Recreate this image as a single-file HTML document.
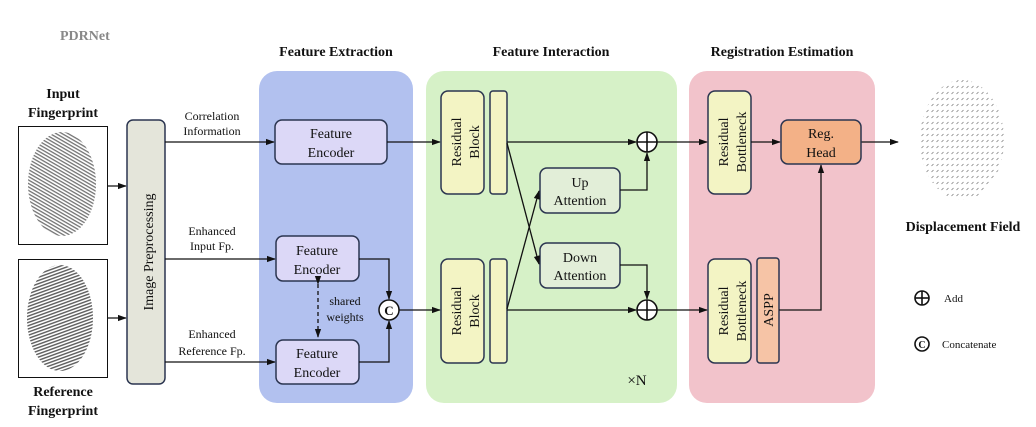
<!DOCTYPE html>
<html><head><meta charset="utf-8"><style>
html,body{margin:0;padding:0;background:#fff}
svg{display:block}
text{font-family:"Liberation Serif",serif;fill:#111}
</style></head><body>
<svg width="1036" height="427" viewBox="0 0 1036 427" xmlns="http://www.w3.org/2000/svg">
<defs>
<marker id="a" viewBox="0 0 10 10" refX="9" refY="5" markerWidth="7" markerHeight="7" orient="auto"><path d="M0,1.5 L10,5 L0,8.5z" fill="#111"/></marker>
<pattern id="fp" width="3" height="3" patternUnits="userSpaceOnUse" patternTransform="rotate(30)"><rect width="3" height="3" fill="#fff"/><rect width="3" height="1.3" fill="#444"/></pattern>
<pattern id="fp2" width="3" height="3" patternUnits="userSpaceOnUse" patternTransform="rotate(-20)"><rect width="3" height="3" fill="#fff"/><rect width="3" height="1.4" fill="#333"/></pattern>
<pattern id="df" width="5" height="6" patternUnits="userSpaceOnUse"><line x1="1.5" y1="4" x2="3.5" y2="2" stroke="#777" stroke-width="0.7"/></pattern>
</defs>
<text x="60" y="40" font-size="14" font-weight="bold" style="fill:#888">PDRNet</text>
<rect x="259" y="71" width="154" height="332" rx="18" fill="#b2c1ef"/>
<rect x="426" y="71" width="251" height="332" rx="18" fill="#d6f1c7"/>
<rect x="689" y="71" width="186" height="332" rx="18" fill="#f2c3cb"/>
<text x="336" y="56" font-size="14" font-weight="bold" text-anchor="middle">Feature Extraction</text>
<text x="551" y="56" font-size="14" font-weight="bold" text-anchor="middle">Feature Interaction</text>
<text x="782" y="56" font-size="14" font-weight="bold" text-anchor="middle">Registration Estimation</text>
<text x="63" y="98" font-size="14" font-weight="bold" text-anchor="middle">Input</text>
<text x="63" y="117" font-size="14" font-weight="bold" text-anchor="middle">Fingerprint</text>
<rect x="18.5" y="126.5" width="89" height="118" fill="#fff" stroke="#111"/>
<ellipse cx="62" cy="184" rx="34" ry="52" fill="url(#fp)" opacity="0.75"/>
<rect x="18.5" y="259.5" width="89" height="118" fill="#fff" stroke="#111"/>
<ellipse cx="60" cy="318" rx="33" ry="53" fill="url(#fp2)" opacity="0.8"/>
<text x="63" y="396" font-size="14" font-weight="bold" text-anchor="middle">Reference</text>
<text x="63" y="415" font-size="14" font-weight="bold" text-anchor="middle">Fingerprint</text>
<line x1="108" y1="186" x2="126" y2="186" stroke="#111" stroke-width="1.3" marker-end="url(#a)"/>
<line x1="108" y1="318" x2="126" y2="318" stroke="#111" stroke-width="1.3" marker-end="url(#a)"/>
<rect x="127" y="120" width="38" height="264" rx="6" fill="#e4e5da" stroke="#2b3550" stroke-width="1.5"/>
<text transform="translate(153,252) rotate(-90)" font-size="14" text-anchor="middle">Image  Preprocessing</text>
<text x="212" y="120" font-size="12" text-anchor="middle">Correlation</text>
<text x="212" y="135" font-size="12" text-anchor="middle">Information</text>
<text x="212" y="235" font-size="12" text-anchor="middle">Enhanced</text>
<text x="212" y="250" font-size="12" text-anchor="middle">Input Fp.</text>
<text x="212" y="338" font-size="12" text-anchor="middle">Enhanced</text>
<text x="212" y="355" font-size="12" text-anchor="middle">Reference Fp.</text>
<g stroke="#111" stroke-width="1.3" fill="none">
<line x1="165" y1="142" x2="274" y2="142" marker-end="url(#a)"/>
<line x1="165" y1="259" x2="275" y2="259" marker-end="url(#a)"/>
<line x1="165" y1="362" x2="275" y2="362" marker-end="url(#a)"/>
</g>
<g stroke="#2b3550" stroke-width="1.5" fill="#dcd8f7">
<rect x="275" y="120" width="112" height="44" rx="7"/>
<rect x="276" y="236" width="83" height="45" rx="7"/>
<rect x="276" y="340" width="83" height="44" rx="7"/>
</g>
<g font-size="14" text-anchor="middle">
<text x="331" y="138">Feature</text><text x="331" y="157">Encoder</text>
<text x="317" y="255">Feature</text><text x="317" y="274">Encoder</text>
<text x="317" y="358">Feature</text><text x="317" y="377">Encoder</text>
</g>
<line x1="318" y1="284" x2="318" y2="337" stroke="#111" stroke-width="1.3" stroke-dasharray="4,3" marker-start="url(#a)" marker-end="url(#a)"/>
<text x="345" y="305" font-size="12" text-anchor="middle">shared</text>
<text x="345" y="321" font-size="12" text-anchor="middle">weights</text>
<g stroke="#111" stroke-width="1.3" fill="none">
<polyline points="359,259 389,259 389,299" marker-end="url(#a)"/>
<polyline points="359,362 389,362 389,321" marker-end="url(#a)"/>
<line x1="399" y1="310" x2="440" y2="310" marker-end="url(#a)"/>
<line x1="387" y1="142" x2="440" y2="142" marker-end="url(#a)"/>
</g>
<circle cx="389" cy="310" r="10" fill="#fff" stroke="#111" stroke-width="1.5"/>
<text x="389" y="315" font-size="13" font-weight="bold" text-anchor="middle">C</text>
<g stroke="#2b3550" stroke-width="1.5" fill="#f3f4c4">
<rect x="441" y="91" width="43" height="103" rx="7"/>
<rect x="490" y="91" width="17" height="103" rx="3"/>
<rect x="441" y="259" width="43" height="104" rx="7"/>
<rect x="490" y="259" width="17" height="104" rx="3"/>
<rect x="708" y="91" width="43" height="103" rx="7"/>
<rect x="708" y="259" width="43" height="104" rx="7"/>
</g>
<rect x="757" y="258" width="22" height="105" rx="3" fill="#f6c4a6" stroke="#2b3550" stroke-width="1.5"/>
<g font-size="14" text-anchor="middle">
<text transform="translate(461,142) rotate(-90)">Residual</text>
<text transform="translate(479,142) rotate(-90)">Block</text>
<text transform="translate(461,311) rotate(-90)">Residual</text>
<text transform="translate(479,311) rotate(-90)">Block</text>
<text transform="translate(728,142) rotate(-90)">Residual</text>
<text transform="translate(746,142) rotate(-90)">Bottleneck</text>
<text transform="translate(728,311) rotate(-90)">Residual</text>
<text transform="translate(746,311) rotate(-90)">Bottleneck</text>
<text transform="translate(773,310) rotate(-90)">ASPP</text>
</g>
<g stroke="#2b3550" stroke-width="1.5" fill="#e2eed8">
<rect x="540" y="168" width="80" height="45" rx="7"/>
<rect x="540" y="243" width="80" height="45" rx="7"/>
</g>
<g font-size="14" text-anchor="middle">
<text x="580" y="187">Up</text><text x="580" y="205">Attention</text>
<text x="580" y="262">Down</text><text x="580" y="280">Attention</text>
</g>
<g stroke="#111" stroke-width="1.3" fill="none">
<line x1="507" y1="142" x2="636" y2="142" marker-end="url(#a)"/>
<line x1="507" y1="310" x2="636" y2="310" marker-end="url(#a)"/>
<line x1="507" y1="143" x2="539" y2="264" marker-end="url(#a)"/>
<line x1="507" y1="309" x2="539" y2="191" marker-end="url(#a)"/>
<polyline points="620,190 647,190 647,153" marker-end="url(#a)"/>
<polyline points="620,265 647,265 647,299" marker-end="url(#a)"/>
<line x1="657" y1="142" x2="707" y2="142" marker-end="url(#a)"/>
<line x1="657" y1="310" x2="707" y2="310" marker-end="url(#a)"/>
<line x1="751" y1="142" x2="780" y2="142" marker-end="url(#a)"/>
<polyline points="779,310 821,310 821,165" marker-end="url(#a)"/>
<line x1="861" y1="142" x2="898" y2="142" marker-end="url(#a)"/>
</g>
<g stroke="#111" stroke-width="1.6" fill="#fff">
<circle cx="647" cy="142" r="10"/><line x1="637" y1="142" x2="657" y2="142"/><line x1="647" y1="132" x2="647" y2="152"/>
<circle cx="647" cy="310" r="10"/><line x1="637" y1="310" x2="657" y2="310"/><line x1="647" y1="300" x2="647" y2="320"/>
</g>
<text x="637" y="385" font-size="15" text-anchor="middle">×N</text>
<rect x="781" y="120" width="80" height="44" rx="7" fill="#f3b187" stroke="#2b3550" stroke-width="1.5"/>
<text x="821" y="138" font-size="14" text-anchor="middle">Reg.</text>
<text x="821" y="157" font-size="14" text-anchor="middle">Head</text>
<ellipse cx="962" cy="140" rx="42" ry="60" fill="url(#df)"/>
<text x="963" y="231" font-size="14" font-weight="bold" text-anchor="middle">Displacement Field</text>
<g stroke="#111" stroke-width="1.6" fill="#fff">
<circle cx="922" cy="298" r="7"/><line x1="915" y1="298" x2="929" y2="298"/><line x1="922" y1="291" x2="922" y2="305"/>
<circle cx="922" cy="344" r="7"/>
</g>
<text x="922" y="348" font-size="10" font-weight="bold" text-anchor="middle">C</text>
<text x="944" y="302" font-size="11">Add</text>
<text x="942" y="348" font-size="11">Concatenate</text>
</svg>
</body></html>
